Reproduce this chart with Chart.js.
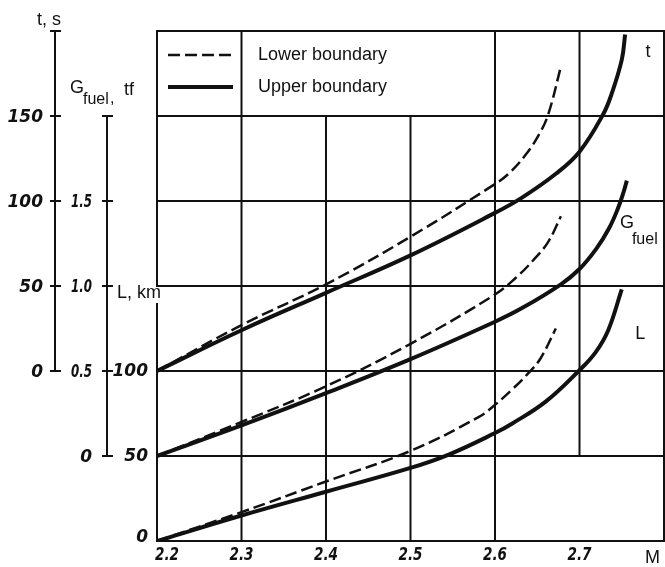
<!DOCTYPE html>
<html>
<head>
<meta charset="utf-8">
<script src="https://cdn.jsdelivr.net/npm/chart.js@4.4.0/dist/chart.umd.min.js"></script>
<style>
  html, body { margin: 0; padding: 0; background: #fff; }
  #wrap { width: 665px; height: 567px; }
</style>
</head>
<body>
<div id="wrap"><canvas id="chart" width="665" height="567"></canvas></div>
<script>
// tick values of the four scales
const tickM = [2.2, 2.3, 2.4, 2.5, 2.6, 2.7];
const tickT = [0, 50, 100, 150];
const tickG = [0, 0.5, 1.0, 1.5];
const tickL = [0, 50, 100];

// t, s  (flight time)
const mT_lower = [2.2, 2.3, 2.4, 2.5, 2.6, 2.616, 2.636, 2.652, 2.663, 2.678];
const t_lower  = [0, 27, 51, 79, 110, 116, 127, 139, 151, 179];
const mT_upper = [2.2, 2.3, 2.4, 2.5, 2.6, 2.632, 2.672, 2.7, 2.728, 2.738, 2.75, 2.754];
const t_upper  = [0, 24, 46, 68, 93, 102, 116, 129, 151, 163, 183, 198];

// G fuel, tf
const mG_lower = [2.2, 2.3, 2.4, 2.5, 2.6, 2.625, 2.645, 2.663, 2.678];
const g_lower  = [0, 0.2, 0.41, 0.66, 0.95, 1.05, 1.15, 1.26, 1.41];
const mG_upper = [2.2, 2.3, 2.4, 2.5, 2.6, 2.632, 2.678, 2.7, 2.72, 2.735, 2.745, 2.752, 2.756];
const g_upper  = [0, 0.18, 0.37, 0.57, 0.79, 0.87, 1.01, 1.10, 1.22, 1.34, 1.45, 1.55, 1.62];

// L, km
const mL_lower = [2.2, 2.3, 2.4, 2.5, 2.581, 2.601, 2.62, 2.64, 2.654, 2.672];
const l_lower  = [0, 17, 35, 53, 73, 80.5, 89, 99, 107.5, 125];
const mL_upper = [2.2, 2.3, 2.4, 2.5, 2.546, 2.6, 2.62, 2.66, 2.699, 2.719, 2.734, 2.75];
const l_upper  = [0, 15, 29, 43, 51, 63.5, 69, 82, 100, 111, 124, 148];

const ink = '#111';
const tickFont = 'italic bold 17px "DejaVu Sans"';
const textFont = '18px "Liberation Sans"';

const pts = (xs, ys) => xs.map((m, i) => ({x: m, y: ys[i]}));

const lowerStyle = {borderColor: ink, borderWidth: 2.5, borderDash: [12, 5], pointRadius: 0,
  tension: 0.4, fill: false};
const upperStyle = {borderColor: ink, borderWidth: 4, pointRadius: 0,
  tension: 0.4, fill: false};

// grid: rows in L units, columns with their vertical span (L units)
const gridRows = [0, 50, 100, 150, 200, 250, 300];
const gridCols = [[2.2, 150, 300], [2.3, 0, 300], [2.4, 0, 250], [2.5, 0, 250],
                  [2.6, 0, 300], [2.7, 50, 300], [2.8, 0, 300]];

function seg(ctx, x1, y1, x2, y2) {
  ctx.beginPath(); ctx.moveTo(x1, y1); ctx.lineTo(x2, y2); ctx.stroke();
}

const gridPlugin = {
  id: 'nomoGrid',
  beforeDatasetsDraw(chart) {
    const {ctx, scales: {x, yL}} = chart;
    ctx.save();
    ctx.strokeStyle = ink;
    ctx.lineWidth = 2;
    ctx.lineCap = 'square';
    gridRows.forEach(v => seg(ctx, x.getPixelForValue(2.2), yL.getPixelForValue(v),
                                   x.getPixelForValue(2.8), yL.getPixelForValue(v)));
    gridCols.forEach(([m, a, b]) => seg(ctx, x.getPixelForValue(m), yL.getPixelForValue(a),
                                             x.getPixelForValue(m), yL.getPixelForValue(b)));
    ctx.restore();
  }
};

const axesPlugin = {
  id: 'nomoAxes',
  afterDatasetsDraw(chart) {
    const {ctx, chartArea, scales: {x, yT, yG, yL}} = chart;
    ctx.save();
    ctx.strokeStyle = ink;
    ctx.fillStyle = ink;
    ctx.lineWidth = 2;

    // t axis
    const xt = chartArea.left - 102;
    seg(ctx, xt, yT.getPixelForValue(0), xt, yT.getPixelForValue(200));
    [0, 50, 100, 150, 200].forEach(v => seg(ctx, xt - 5, yT.getPixelForValue(v), xt + 6, yT.getPixelForValue(v)));
    // G axis
    const xg = chartArea.left - 50;
    seg(ctx, xg, yG.getPixelForValue(0), xg, yG.getPixelForValue(2.0));
    [0, 0.5, 1.0, 1.5, 2.0].forEach(v => seg(ctx, xg - 5, yG.getPixelForValue(v), xg + 6, yG.getPixelForValue(v)));
    // L axis (left side of the field)
    seg(ctx, chartArea.left, yL.getPixelForValue(0), chartArea.left, yL.getPixelForValue(140));

    ctx.font = tickFont;
    ctx.textBaseline = 'middle';
    ctx.textAlign = 'right';
    tickT.forEach(v => ctx.fillText(String(v), xt - 12, yT.getPixelForValue(v) + 2));
    tickG.forEach(v => {
      const s = v === 0 ? '0' : v.toFixed(1);
      ctx.fillText(s, xg - 15, yG.getPixelForValue(v) + 2, v === 0 ? 20 : 21);
    });
    tickL.forEach(v => ctx.fillText(String(v), chartArea.left - 9, yL.getPixelForValue(v) + (v === 0 ? -3 : 1)));

    ctx.textAlign = 'center';
    tickM.forEach((m, i) => {
      const px = x.getPixelForValue(m) + (i === 0 ? 10 : 0);
      ctx.fillText(m.toFixed(1), px, chartArea.bottom + 15, 24);
    });

    ctx.font = textFont;
    ctx.textBaseline = 'alphabetic';
    ctx.textAlign = 'right';
    ctx.fillText('M', chartArea.right - 4, chartArea.bottom + 22);

    // axis titles
    ctx.textAlign = 'left';
    ctx.fillText('t, s', xt - 18, chartArea.top - 6);
    ctx.fillText('G', xt + 15, chartArea.top + 62);
    ctx.font = '16px "Liberation Sans"';
    ctx.fillText('fuel', xt + 28, chartArea.top + 73);
    ctx.fillText(',', xt + 55, chartArea.top + 72);
    ctx.font = textFont;
    ctx.fillText('tf', xt + 69, chartArea.top + 64);
    ctx.fillText('L, km', xg + 10, yL.getPixelForValue(150) + 12);

    // curve labels
    ctx.fillText('t', x.getPixelForValue(2.778), yT.getPixelForValue(185));
    ctx.fillText('G', x.getPixelForValue(2.748), yG.getPixelForValue(1.34));
    ctx.font = '16px "Liberation Sans"';
    ctx.fillText('fuel', x.getPixelForValue(2.762), yG.getPixelForValue(1.25));
    ctx.font = textFont;
    ctx.fillText('L', x.getPixelForValue(2.766), yL.getPixelForValue(119));

    // legend in the top-left cell
    const ly1 = chartArea.top + 24, ly2 = chartArea.top + 56;
    ctx.lineWidth = lowerStyle.borderWidth;
    ctx.setLineDash(lowerStyle.borderDash);
    seg(ctx, chartArea.left + 11, ly1, chartArea.left + 76, ly1);
    ctx.setLineDash([]);
    ctx.lineWidth = upperStyle.borderWidth;
    seg(ctx, chartArea.left + 11, ly2, chartArea.left + 76, ly2);
    ctx.textBaseline = 'middle';
    ctx.fillText('Lower boundary', chartArea.left + 101, ly1);
    ctx.fillText('Upper boundary', chartArea.left + 101, ly2);
    ctx.restore();
  }
};

new Chart(document.getElementById('chart').getContext('2d'), {
  type: 'line',
  data: {
    datasets: [
      {label: 't lower', data: pts(mT_lower, t_lower), yAxisID: 'yT', ...lowerStyle},
      {label: 't upper', data: pts(mT_upper, t_upper), yAxisID: 'yT', ...upperStyle},
      {label: 'G lower', data: pts(mG_lower, g_lower), yAxisID: 'yG', ...lowerStyle},
      {label: 'G upper', data: pts(mG_upper, g_upper), yAxisID: 'yG', ...upperStyle},
      {label: 'L lower', data: pts(mL_lower, l_lower), yAxisID: 'yL', ...lowerStyle},
      {label: 'L upper', data: pts(mL_upper, l_upper), yAxisID: 'yL', ...upperStyle}
    ]
  },
  options: {
    responsive: false,
    animation: false,
    layout: {padding: {left: 157, right: 1, top: 31, bottom: 26}},
    plugins: {legend: {display: false}, tooltip: {enabled: false}},
    scales: {
      x:  {type: 'linear', min: 2.2, max: 2.8, display: false},
      yT: {type: 'linear', min: -100, max: 200, display: false},
      yG: {type: 'linear', min: -0.5, max: 2.5, display: false},
      yL: {type: 'linear', min: 0, max: 300, display: false}
    }
  },
  plugins: [gridPlugin, axesPlugin]
});
</script>
</body>
</html>
